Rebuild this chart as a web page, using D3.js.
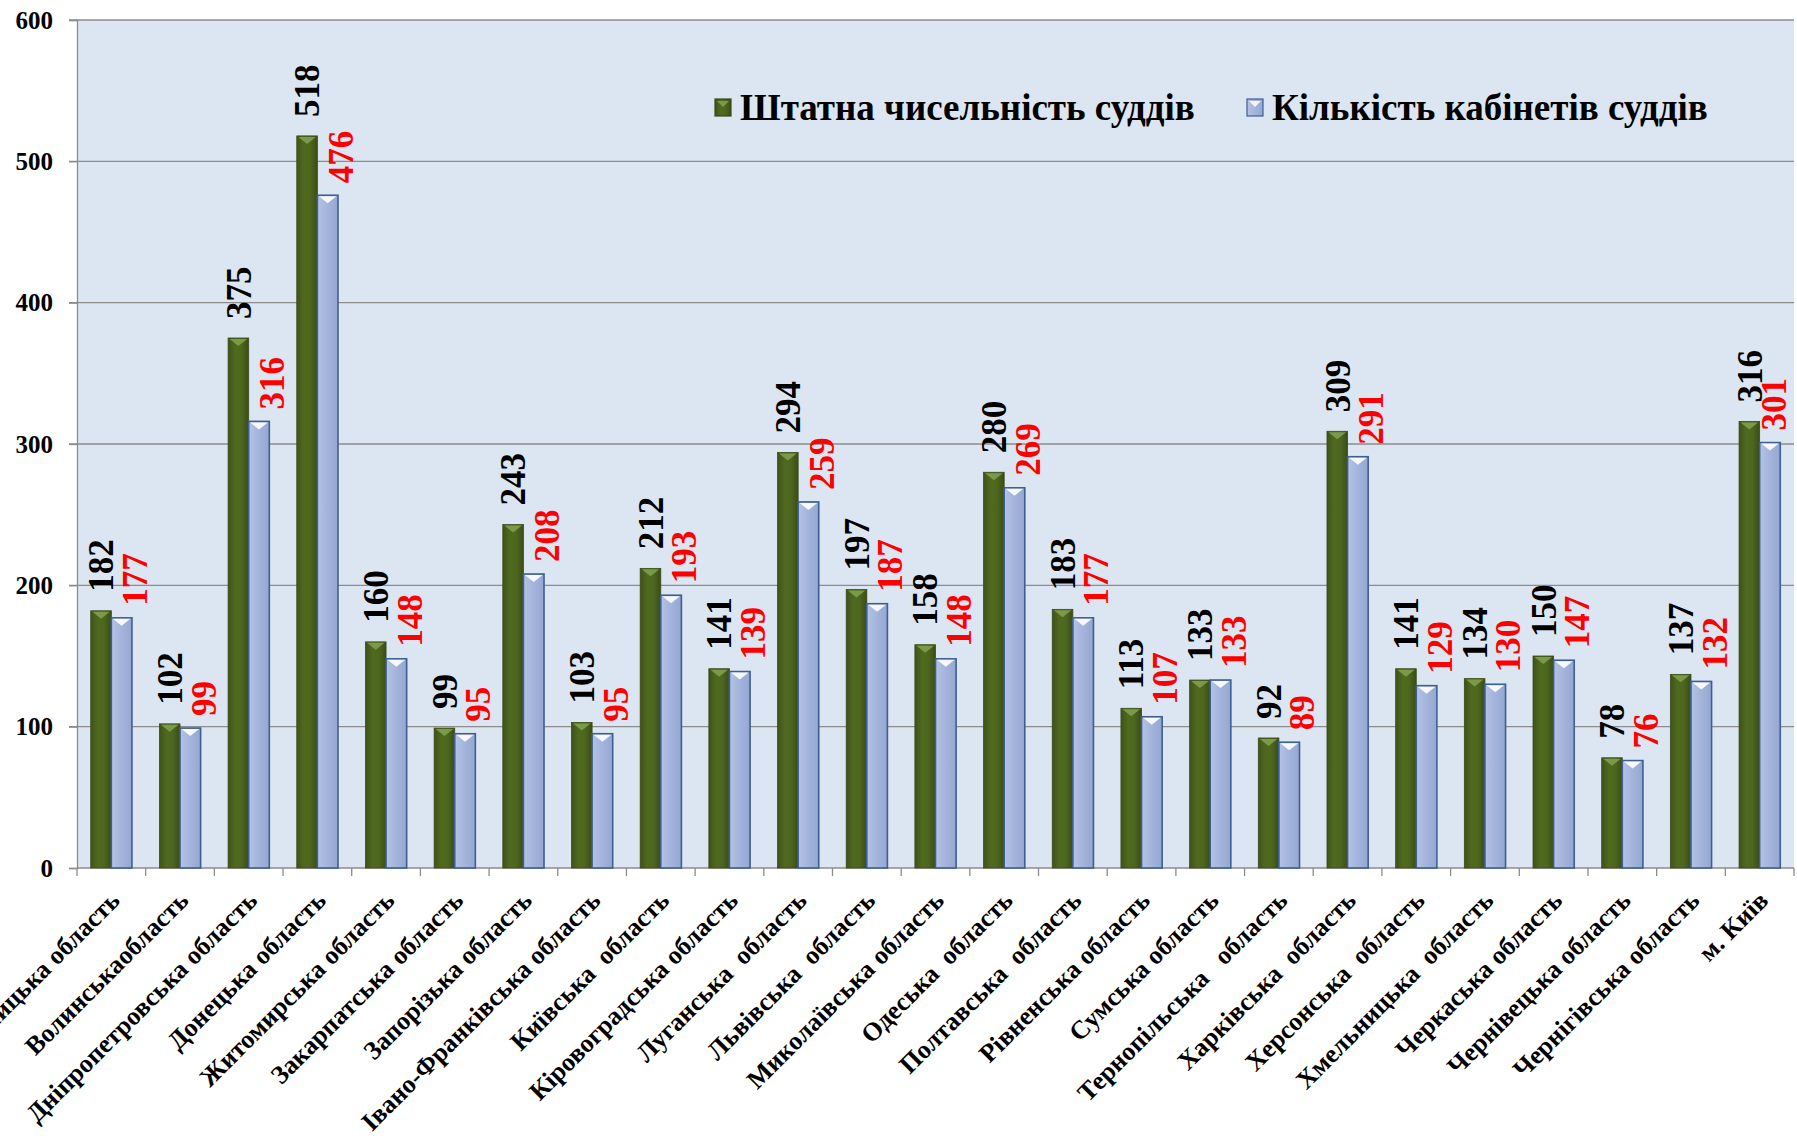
<!DOCTYPE html>
<html>
<head>
<meta charset="utf-8">
<script src="https://cdn.jsdelivr.net/npm/d3@7"></script>
<style>
  html, body { margin: 0; padding: 0; background: #fff; }
  svg { display: block; }
  text { font-family: "Liberation Serif", "Times New Roman", serif; font-weight: bold; }
</style>
</head>
<body>
<svg id="chart" width="1797" height="1139"></svg>
<script>
const categories = [
  "Вінницька область", "Волинськаобласть", "Дніпропетровська область", "Донецька область",
  "Житомирська область", "Закарпатська область", "Запорізька область", "Івано-Франківська область",
  "Київська  область", "Кіровоградська область", "Луганська  область", "Львівська  область",
  "Миколаївська область", "Одеська  область", "Полтавська  область", "Рівненська область",
  "Сумська область", "Тернопільська   область", "Харківська  область", "Херсонська  область",
  "Хмельницька  область", "Черкаська область", "Чернівецька область", "Чернігівська область",
  "м. Київ"
];
const judgesStaff = [182, 102, 375, 518, 160, 99, 243, 103, 212, 141, 294, 197, 158, 280, 183, 113, 133, 92, 309, 141, 134, 150, 78, 137, 316];
const judgesOffices = [177, 99, 316, 476, 148, 95, 208, 95, 193, 139, 259, 187, 148, 269, 177, 107, 133, 89, 291, 129, 130, 147, 76, 132, 301];
const seriesNames = ["Штатна чисельність суддів", "Кількість кабінетів суддів"];
const yTicks = [0, 100, 200, 300, 400, 500, 600];

const FONT = "Liberation Serif, Times New Roman, serif";
const svg = d3.select("#chart");
const plot = { left: 77, right: 1794, top: 20, bottom: 868 };

const defs = svg.append("defs");
const gGreen = defs.append("linearGradient").attr("id", "gGreen").attr("x1", 0).attr("x2", 1);
gGreen.append("stop").attr("offset", "0%").attr("stop-color", "#3f5219");
gGreen.append("stop").attr("offset", "35%").attr("stop-color", "#4f6a1f");
gGreen.append("stop").attr("offset", "65%").attr("stop-color", "#4d671e");
gGreen.append("stop").attr("offset", "100%").attr("stop-color", "#3b4c17");
const gBlue = defs.append("linearGradient").attr("id", "gBlue").attr("x1", 0).attr("x2", 1);
gBlue.append("stop").attr("offset", "0%").attr("stop-color", "#b4c3e6");
gBlue.append("stop").attr("offset", "40%").attr("stop-color", "#a6b6dd");
gBlue.append("stop").attr("offset", "100%").attr("stop-color", "#95a7d2");

// plot background
svg.append("rect")
  .attr("x", plot.left).attr("y", plot.top)
  .attr("width", plot.right - plot.left).attr("height", plot.bottom - plot.top)
  .attr("fill", "#dce6f2");

const x0 = d3.scaleBand().domain(d3.range(categories.length)).range([plot.left, plot.right]).padding(0);
const x1 = d3.scaleBand().domain([0, 1]).range([x0.bandwidth() * 0.2, x0.bandwidth() * 0.8]).padding(0);
const y = d3.scaleLinear().domain([0, 600]).range([plot.bottom, plot.top]);

// gridlines
svg.append("g").selectAll("line").data(yTicks.filter(d => d > 0)).join("line")
  .attr("x1", plot.left - 8).attr("x2", plot.right)
  .attr("y1", d => y(d)).attr("y2", d => y(d))
  .attr("stroke", "#8c8c8c").attr("stroke-width", 1.3);

// y axis
const yAxis = svg.append("g").attr("transform", `translate(${plot.left},0)`)
  .call(d3.axisLeft(y).tickValues(yTicks).tickSize(8).tickPadding(16).tickFormat(d3.format("d")));
yAxis.attr("font-family", FONT);
yAxis.select(".domain").attr("stroke", "#8c8c8c").attr("stroke-width", 1.3);
yAxis.selectAll(".tick line").attr("stroke", "#8c8c8c").attr("stroke-width", 1.3);
yAxis.selectAll(".tick text").attr("font-size", 25).attr("fill", "#000")
  .attr("font-family", FONT).attr("font-weight", "bold");

// x axis line and ticks at category boundaries
const boundaries = d3.range(categories.length + 1).map(i => i === categories.length ? plot.right : x0(i));
svg.append("line").attr("x1", plot.left).attr("x2", plot.right)
  .attr("y1", plot.bottom).attr("y2", plot.bottom)
  .attr("stroke", "#8c8c8c").attr("stroke-width", 1.3);
svg.append("g").selectAll("line").data(boundaries).join("line")
  .attr("x1", d => d).attr("x2", d => d)
  .attr("y1", plot.bottom).attr("y2", plot.bottom + 8)
  .attr("stroke", "#8c8c8c").attr("stroke-width", 1.3);

// bars
const series = [
  { name: seriesNames[0], values: judgesStaff, fill: "url(#gGreen)", stroke: "#3a4a16", bevel: "#84a350", label: "#000", labelShift: 0 },
  { name: seriesNames[1], values: judgesOffices, fill: "url(#gBlue)", stroke: "#3d5f92", bevel: "#ffffff", label: "#ff0000", labelShift: 13 }
];
const bw = x1.bandwidth();
series.forEach((s, si) => {
  const g = svg.append("g");
  g.selectAll("rect").data(s.values).join("rect")
    .attr("x", (d, i) => x0(i) + x1(si))
    .attr("y", d => y(d))
    .attr("width", bw)
    .attr("height", d => y(0) - y(d))
    .attr("fill", s.fill)
    .attr("stroke", s.stroke).attr("stroke-width", si === 1 ? 1.6 : 0.8);
  // top bevel triangle
  g.selectAll("path").data(s.values).join("path")
    .attr("d", (d, i) => {
      const xa = x0(i) + x1(si) + 1.5, xb = xa + bw - 3, yt = y(d) + 1;
      return `M${xa},${yt}L${xb},${yt}L${(xa + xb) / 2},${yt + 7}Z`;
    })
    .attr("fill", s.bevel).attr("opacity", si === 1 ? 0.9 : 0.85);
  // value labels
  g.selectAll("text").data(s.values).join("text")
    .attr("transform", (d, i) => {
      const cx = Math.min(x0(i) + x1(si) + bw / 2 + s.labelShift, plot.right - 20);
      const cy = y(d) - (si === 0 ? 19 : 12);
      return `translate(${cx},${cy}) rotate(-90)`;
    })
    .attr("dy", "0.35em")
    .attr("text-anchor", "start")
    .attr("font-family", FONT)
    .attr("font-weight", "bold")
    .attr("font-size", 35)
    .attr("fill", s.label)
    .text(d => d);
});

// category labels
svg.append("g").selectAll("text").data(categories).join("text")
  .attr("transform", (d, i) => `translate(${x0(i) + x0.bandwidth() / 2 + 10},${plot.bottom + 34}) rotate(-45)`)
  .attr("text-anchor", "end")
  .attr("font-family", FONT)
  .attr("font-weight", "bold")
  .attr("font-size", 26)
  .style("white-space", "pre")
  .attr("fill", "#000")
  .text(d => d);

// legend
const legend = svg.append("g");
const legendItems = [
  { x: 715, name: seriesNames[0], fill: "url(#gGreen)", stroke: "#3a4a16", bevel: "#84a350" },
  { x: 1247, name: seriesNames[1], fill: "url(#gBlue)", stroke: "#3d5f92", bevel: "#ffffff" }
];
legendItems.forEach(it => {
  legend.append("rect").attr("x", it.x).attr("y", 99).attr("width", 16).attr("height", 17)
    .attr("fill", it.fill).attr("stroke", it.stroke).attr("stroke-width", 1.2);
  legend.append("path").attr("d", `M${it.x + 2},${101}L${it.x + 14},${101}L${it.x + 8},${107}Z`).attr("fill", it.bevel).attr("opacity", 0.85);
  legend.append("text").attr("x", it.x + 25).attr("y", 120)
    .attr("font-family", FONT).attr("font-weight", "bold")
    .attr("font-size", 37).attr("fill", "#000").text(it.name);
});
</script>
</body>
</html>
